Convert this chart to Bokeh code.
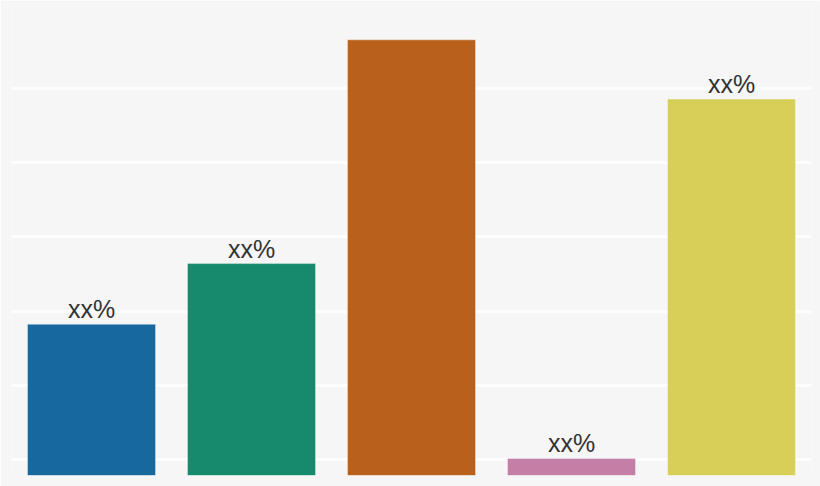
from bokeh.core.properties import value
from bokeh.embed import file_html
from bokeh.models import ColumnDataSource, FixedTicker, Range1d
from bokeh.plotting import figure
from bokeh.resources import INLINE

# chart data
categories = ["A", "B", "C", "D", "E"]
values = [18.2, 26.4, 56.6, 0.1, 48.6]
labels = ["xx%", "xx%", "", "xx%", "xx%"]
colors = ["#17699d", "#168a6b", "#b9611a", "#c47fa6", "#d8cf58"]
grid_ticks = [0, 10, 20, 30, 40, 50]
baseline = -2.2

source = ColumnDataSource(
    data=dict(cat=categories, top=values, label=labels, color=colors)
)

p = figure(
    x_range=categories,
    y_range=Range1d(baseline, 61.1),
    width=820,
    height=486,
    output_backend="svg",
    toolbar_location=None,
    min_border_left=11,
    min_border_right=9,
    min_border_top=6,
    min_border_bottom=11,
)
p.background_fill_color = "#f6f6f6"
p.border_fill_color = "#f6f6f6"
p.outline_line_color = None

p.vbar(
    x="cat",
    top="top",
    bottom=baseline,
    width=0.8,
    fill_color="color",
    line_color="white",
    line_alpha=0.35,
    line_width=1,
    source=source,
)
p.text(
    x="cat",
    y="top",
    text="label",
    text_align="center",
    text_baseline="bottom",
    y_offset=-1,
    text_font=value("Liberation Sans"),
    text_font_size="25px",
    text_color="#333333",
    source=source,
)

p.xaxis.visible = False
p.yaxis.visible = False
p.xgrid.grid_line_color = None
p.yaxis.ticker = FixedTicker(ticks=grid_ticks)
p.ygrid.grid_line_color = "white"
p.ygrid.grid_line_width = 2.5
p.ygrid.level = "underlay"

open("out.html", "w").write(file_html(p, INLINE))
